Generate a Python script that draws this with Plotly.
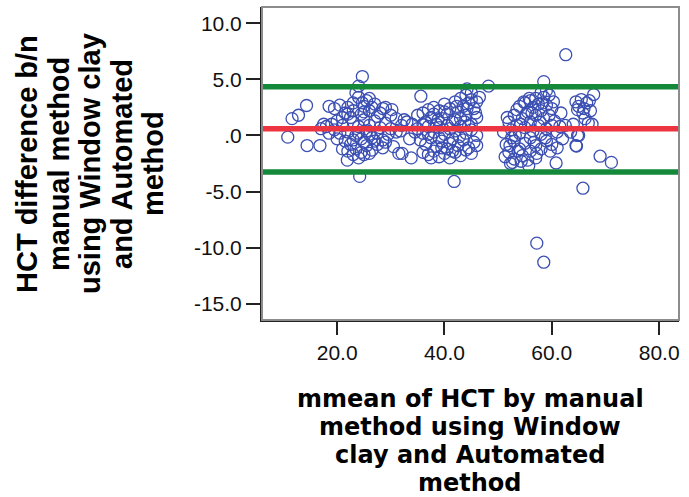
import plotly.graph_objects as go

# ---------------- data ----------------
mean_hct = [
    # isolated points
    62.6, 24.7, 48.2, 58.5, 35.6, 67.8, 14.3, 11.6, 12.8, 10.8, 14.4, 16.8, 21.9, 24.2,
    41.8, 32.1, 33.8, 60.8, 65.8, 69.0, 71.1, 57.2, 58.5, 64.6, 64.8, 44.2, 55.7, 52.3,
    # cluster around 17-33
    18.5, 19.5, 20.5, 21.5, 22.0, 23.0, 23.5, 24.0, 25.0, 25.5, 26.0, 27.0, 28.0, 29.0,
    30.0, 31.0, 24.5, 22.5, 20.0, 19.0, 18.0, 17.5, 21.0, 23.0, 24.0, 25.0, 26.0, 27.0,
    28.0, 29.0, 30.0, 31.0, 32.0, 33.0, 22.0, 23.5, 24.5, 25.5, 26.5, 27.5, 28.5, 29.5,
    20.5, 19.5, 21.5, 22.5, 23.5, 24.5, 25.5, 26.5, 27.5, 28.5, 23.0, 24.0, 25.0, 26.0,
    21.0, 22.0, 29.0, 30.5, 31.5, 20.0, 18.5, 17.0, 24.0, 25.0, 23.0, 26.5, 27.5, 28.5,
    24.0, 25.0, 26.0, 27.0, 23.0, 22.0, 21.0, 24.7, 26.0, 32.5, 31.8, 30.2,
    # cluster around 34-47
    35.0, 36.0, 36.5, 37.0, 37.5, 38.0, 38.5, 39.0, 39.5, 40.0, 40.5, 41.0, 41.5, 42.0,
    42.5, 43.0, 43.5, 44.0, 44.5, 45.0, 45.5, 46.0, 43.0, 44.0, 45.0, 46.0, 35.0, 36.0,
    37.0, 38.0, 39.0, 40.0, 41.0, 42.0, 43.0, 44.0, 45.0, 46.0, 35.5, 36.5, 37.5, 38.5,
    39.5, 40.5, 41.5, 42.5, 43.5, 44.5, 45.5, 46.0, 36.0, 37.0, 38.0, 39.0, 40.0, 41.0,
    42.0, 43.0, 44.0, 45.0, 37.5, 39.5, 41.5, 40.5, 42.0, 38.0, 36.0, 44.5, 42.8, 39.0,
    34.5, 33.5, 34.0, 37.0, 41.0, 43.8, 45.8, 44.2, 42.3, 40.0, 38.8, 46.5, 45.0,
    # cluster around 51-62
    51.0, 51.5, 52.0, 52.0, 52.5, 53.0, 53.0, 53.0, 53.5, 53.5, 54.0, 54.0, 54.0, 54.5,
    54.5, 55.0, 55.0, 55.0, 55.5, 55.5, 56.0, 56.0, 56.0, 56.0, 56.5, 56.5, 57.0, 57.0,
    57.0, 57.0, 57.5, 57.5, 58.0, 58.0, 58.0, 58.0, 58.5, 58.5, 59.0, 59.0, 59.0, 59.0,
    59.5, 59.5, 60.0, 60.0, 60.0, 60.5, 61.0, 61.0, 61.5, 62.0, 52.5, 53.7, 54.8, 55.8,
    57.2, 58.8, 59.7, 56.7, 55.2, 54.2, 53.2, 52.2, 51.7, 51.3, 52.7, 54.3, 56.3, 57.8,
    58.3, 60.3, 62.5, 61.7,
    # cluster around 63-68
    64.5, 65.0, 65.5, 66.0, 66.5, 67.0, 65.8, 64.8, 66.2, 67.5, 64.0, 66.8, 63.5, 65.0,
    64.5, 67.2,
]
diff_hct = [
    # isolated points
    7.2, 5.25, 4.4, 4.8, 3.5, 3.65, 2.67, 1.5, 1.8, -0.15, -0.9, -0.9, -2.2, -3.65,
    -4.1, -1.6, -2.0, -2.45, -4.7, -1.85, -2.4, -9.6, -11.3, -0.95, 0.0, 4.15, -2.7, -2.5,
    # cluster around 17-33
    2.6, 2.4, 2.7, 2.0, 2.5, 2.9, 3.8, 3.4, 2.6, 3.1, 2.2, 2.8, 2.0, 2.5,
    1.8, 1.5, 1.9, 1.6, 1.3, 1.0, 0.8, 1.0, 0.9, 1.2, 0.8, 1.4, 0.9, 1.3,
    0.7, 1.1, 0.6, 0.3, 0.9, 1.2, 0.3, 0.0, -0.3, 0.4, -0.2, 0.2, -0.4, 0.1,
    0.2, 0.5, -0.5, -0.8, -1.2, -1.5, -0.9, -1.3, -0.8, -1.1, -1.7, -2.0, -1.7, -1.6,
    -1.2, -1.4, -0.6, -1.0, -1.6, -0.3, 0.2, 0.6, 4.4, 2.1, 2.2, 2.5, 1.7, 2.4,
    0.2, -0.6, 0.1, -0.5, -0.4, 1.9, 1.6, 2.9, 3.3, 1.4, 0.4, 2.3,
    # cluster around 34-47
    1.8, 2.0, 1.2, 2.3, 1.6, 2.5, 1.0, 2.2, 1.5, 2.8, 1.9, 2.4, 1.2, 3.0,
    2.1, 3.3, 2.6, 3.6, 2.9, 3.2, 2.4, 3.0, 1.5, 1.8, 1.0, 1.6, 0.6, 0.2,
    0.8, 0.3, 0.7, 0.1, 0.6, 0.4, 0.8, 0.2, 0.5, 0.0, -0.4, -0.8, -0.2, -1.0,
    -0.5, -1.2, -0.3, -0.9, -0.4, -1.1, -0.6, -0.9, -1.5, -1.7, -1.4, -1.9, -1.6, -2.0,
    -1.5, -1.8, -1.3, -1.6, -2.0, -1.1, -1.4, 0.9, 1.4, 1.9, 1.0, 0.9, -0.1, -0.2,
    0.3, -0.3, 1.0, 0.1, -0.7, 1.2, 2.0, 2.4, 2.6, 2.1, 1.4, 3.4, 3.8,
    # cluster around 51-62
    0.3, -0.8, 1.2, -1.5, 0.5, 1.8, -0.5, -2.1, 2.3, 0.9, 2.6, -1.2, 0.2, 1.5,
    -1.8, 2.9, 0.7, -0.7, 2.1, -2.2, 3.1, 1.2, -0.2, -1.4, 2.5, 0.4, 3.3, 1.8,
    -0.9, -2.0, 2.8, 0.9, 3.8, 2.2, 0.1, -1.2, 3.4, 1.5, 4.0, 2.7, 0.6, -0.5,
    3.6, 1.8, 2.4, -0.8, 0.9, 1.3, 0.3, -1.1, 0.8, -0.3, -0.2, -1.4, 3.0, 3.3,
    -1.6, -0.2, -1.4, -0.6, 1.9, 1.0, 0.0, -0.9, 1.6, -1.9, -2.4, -2.3, 2.0, 1.2,
    2.9, 3.0, 0.9, 2.0,
    # cluster around 63-68
    3.0, 2.6, 3.2, 2.4, 2.9, 3.1, 2.0, 2.3, 1.5, 1.0, 1.0, 1.1, 0.3, 0.0,
    -0.9, 2.2,
]

mean_diff = 0.6
upper_loa = 4.35
lower_loa = -3.25

y_tick_vals = [10, 5, 0, -5, -10, -15]
y_tick_text = ["10.0", "5.0", ".0", "-5.0", "-10.0", "-15.0"]
x_tick_vals = [20, 40, 60, 80]
x_tick_text = ["20.0", "40.0", "60.0", "80.0"]

y_title_lines = ["HCT difference b/n", "manual method", "using Window clay",
                 "and Automated", "method"]
x_title_lines = ["mmean of HCT by manual", "method using Window",
                 "clay and Automated", "method"]

# ---------------- figure ----------------
W, H = 689, 497
ML, MR, MT, MB = 262, 10, 7, 177
PW, PH = W - ML - MR, H - MT - MB


def px_x(px):
    return (px - ML) / PW


def px_y(py):
    return (H - MB - py) / PH


fig = go.Figure()
fig.add_trace(go.Scatter(
    x=mean_hct, y=diff_hct, mode="markers",
    marker=dict(symbol="circle-open", size=12, color="#3b4fb3",
                line=dict(width=1.3, color="#3b4fb3")),
    hoverinfo="skip", showlegend=False,
))

for val, col in [(upper_loa, "#14893a"), (lower_loa, "#14893a"), (mean_diff, "#ec3540")]:
    fig.add_shape(type="line", xref="paper", yref="y", x0=0, x1=1, y0=val, y1=val,
                  line=dict(color=col, width=5.5), layer="above")

# grey box (top/right)
fig.add_shape(type="rect", xref="paper", yref="paper", x0=0, x1=1, y0=0, y1=1,
              line=dict(color="#8c8c8c", width=2), layer="above")

fig.update_xaxes(range=[6.0, 83.7], tickvals=x_tick_vals, ticktext=x_tick_text,
                 ticks="outside", ticklen=13, tickwidth=2, tickcolor="#222",
                 showline=True, linecolor="#222", linewidth=2,
                 showgrid=False, zeroline=False,
                 tickfont=dict(family="Liberation Sans, Arial", size=21, color="#111"))
fig.update_yaxes(range=[-16.45, 11.45], tickvals=y_tick_vals, ticktext=y_tick_text,
                 ticks="outside", ticklen=14, tickwidth=2, tickcolor="#222",
                 showline=True, linecolor="#222", linewidth=2,
                 showgrid=False, zeroline=False,
                 tickfont=dict(family="Liberation Sans, Arial", size=21, color="#111"))

title_font_y = dict(family="Liberation Sans, Arial", size=29, color="#000", weight="bold")
title_font_x = dict(family="DejaVu Sans, Verdana", size=24, color="#000", weight="bold")

y_centers = [27, 59, 90, 122, 153]
for txt, cx in zip(y_title_lines, y_centers):
    fig.add_annotation(text=txt, xref="paper", yref="paper", x=px_x(cx), y=px_y(164),
                       xanchor="center", yanchor="middle", textangle=-90,
                       showarrow=False, font=title_font_y)

x_centers = [399, 427, 455, 483]
for txt, cy in zip(x_title_lines, x_centers):
    fig.add_annotation(text=txt, xref="paper", yref="paper", x=px_x(470), y=px_y(cy),
                       xanchor="center", yanchor="middle",
                       showarrow=False, font=title_font_x)

fig.update_layout(width=W, height=H, margin=dict(l=ML, r=MR, t=MT, b=MB),
                  paper_bgcolor="white", plot_bgcolor="white")

fig.write_html("out.html")
